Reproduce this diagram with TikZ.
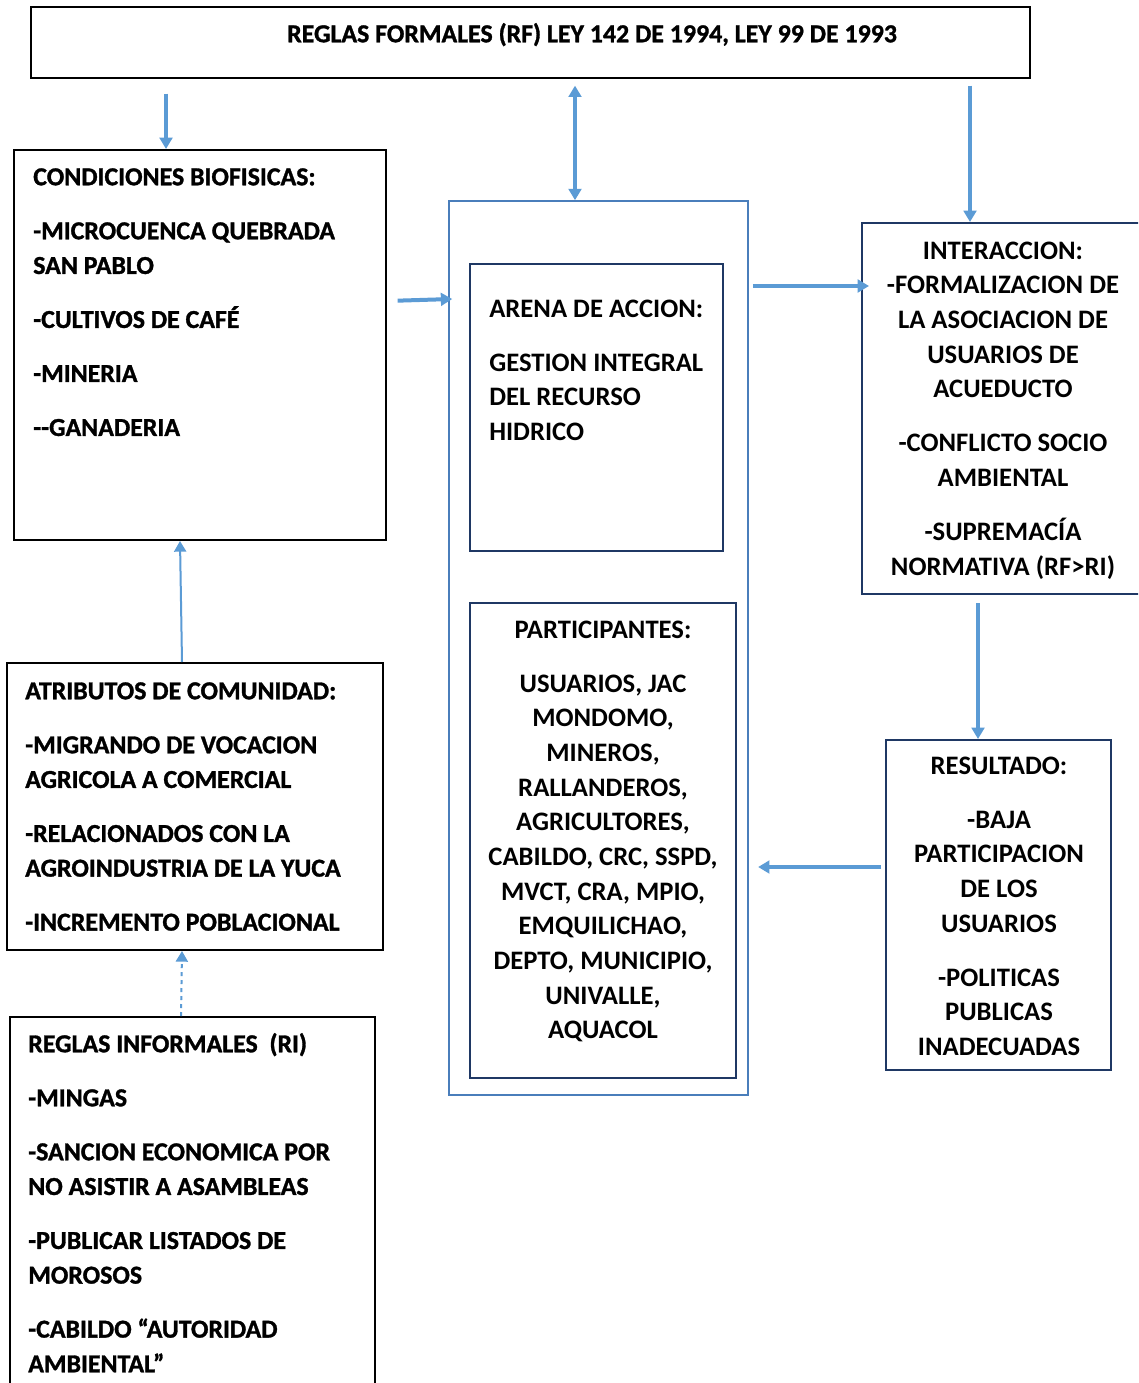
\documentclass[tikz,border=0pt]{standalone}
\usepackage{fontspec}
\setmainfont{Carlito}
% heavier face for the texts framed in black
\newfontfamily\heavyfont{Carlito Bold}[FakeBold=1.2]
\usetikzlibrary{arrows.meta,fit}
\definecolor{arrowblue}{HTML}{5B9BD5}
\definecolor{frameblue}{HTML}{4A7EBB}
\definecolor{navy}{HTML}{1F3864}
% strut fixing the height of the first line of every text block
\newcommand{\fl}{\rule{0pt}{15pt}}

\begin{document}
\begin{tikzpicture}[x=0.75pt,y=-0.75pt,
  blackbox/.style={draw=black, line width=1.5pt, inner sep=0pt},
  navybox/.style={draw=navy, line width=1.5pt, inner sep=0pt},
  framebox/.style={draw=frameblue, line width=1.2pt, inner sep=0pt},
  txt/.style={inner sep=0pt, font=\fontsize{20}{26}\selectfont\bfseries, text=black},
  htxt/.style={inner sep=0pt, font=\fontsize{19.4}{26}\selectfont\heavyfont, text=black},
  ltxt/.style={htxt, align=left, anchor=north west},
  ctxt/.style={txt, align=center, anchor=north},
  arr/.style={draw=arrowblue, line width=3pt, -{Triangle[width=9.5pt,length=8.5pt]}},
  darr/.style={draw=arrowblue, line width=3pt, {Triangle[width=9.5pt,length=8.5pt]}-{Triangle[width=9.5pt,length=8.5pt]}},
  thinarr/.style={draw=arrowblue, line width=1.5pt, -{Triangle[width=9pt,length=8pt]}},
]
\clip (0,0) rectangle (1138,1383);
\fill[white] (0,0) rectangle (1138,1383);

% ---------- boxes ----------
\node[blackbox, fit={(31,7) (1030,78)}] (rf) {};
\node[blackbox, fit={(14,150) (386,540)}] (cond) {};
\node[blackbox, fit={(7,663) (383,950)}] (atr) {};
\node[blackbox, fit={(10,1017) (375,1400)}] (ri) {};
\node[framebox, fit={(449,201) (748,1095)}] (arena) {};
\node[navybox, fit={(470,264) (723,551)}] (accion) {};
\node[navybox, fit={(470,603) (736,1078)}] (part) {};
\node[navybox, fit={(862,223) (1150,594)}] (inter) {};
\node[navybox, fit={(886,740) (1111,1070)}] (res) {};

% ---------- texts ----------
\node[htxt, anchor=north] (rftxt) at (592,22) {\fl REGLAS FORMALES (RF) LEY 142 DE 1994, LEY 99 DE 1993};

\node[ltxt] (condtxt) at (33,165) {\fl CONDICIONES BIOFISICAS:\\[14.5pt]
  -MICROCUENCA QUEBRADA\\ SAN PABLO\\[14.5pt]
  -CULTIVOS DE CAFÉ\\[14.5pt]
  -MINERIA\\[14.5pt]
  -{}-GANADERIA};

\node[txt, align=left, anchor=north west] (accitxt) at (489,297) {\fl ARENA DE ACCION:\\[14.5pt]
  GESTION INTEGRAL\\ DEL RECURSO\\ HIDRICO};

\node[ctxt] (intertxt) at (1003,239) {\fl INTERACCION:\\
  -FORMALIZACION DE\\ LA ASOCIACION DE\\ USUARIOS DE\\ ACUEDUCTO\\[14.5pt]
  -CONFLICTO SOCIO\\ AMBIENTAL\\[14.5pt]
  -SUPREMACÍA\\ NORMATIVA (RF>RI)};

\node[ctxt] (restxt) at (999,754) {\fl RESULTADO:\\[14.5pt]
  -BAJA\\ PARTICIPACION\\ DE LOS\\ USUARIOS\\[14.5pt]
  -POLITICAS\\ PUBLICAS\\ INADECUADAS};

\node[ctxt] (parttxt) at (603,618) {\fl PARTICIPANTES:\\[14.5pt]
  USUARIOS, JAC\\ MONDOMO,\\ MINEROS,\\ RALLANDEROS,\\ AGRICULTORES,\\
  CABILDO, CRC, SSPD,\\ MVCT, CRA, MPIO,\\ EMQUILICHAO,\\ DEPTO, MUNICIPIO,\\
  UNIVALLE,\\ AQUACOL};

\node[ltxt] (atrtxt) at (25,679) {\fl ATRIBUTOS DE COMUNIDAD:\\[14.5pt]
  -MIGRANDO DE VOCACION\\ AGRICOLA A COMERCIAL\\[14.5pt]
  -RELACIONADOS CON LA\\ AGROINDUSTRIA DE LA YUCA\\[14.5pt]
  -INCREMENTO POBLACIONAL};

\node[ltxt] (ritxt) at (28,1032) {\fl REGLAS INFORMALES\ \ (RI)\\[14.5pt]
  -MINGAS\\[14.5pt]
  -SANCION ECONOMICA POR\\ NO ASISTIR A ASAMBLEAS\\[14.5pt]
  -PUBLICAR LISTADOS DE\\ MOROSOS\\[14.5pt]
  -CABILDO “AUTORIDAD\\ AMBIENTAL”};

% ---------- connectors ----------
\draw[arr, shorten <=11pt] (rf.south -| 166,0) -- (cond.north -| 166,0);
\draw[darr, shorten <=5pt] (rf.south -| 575,0) -- (arena.north -| 575,0);
\draw[arr, shorten <=5pt] (rf.south -| 970,0) -- (inter.north -| 970,0);
\draw[arr, shorten <=8pt] (cond.east |- 0,301) -- ([xshift=3pt]arena.west |- 0,299);
\draw[arr, shorten <=3pt] (arena.east |- 0,286) -- ([xshift=6pt]inter.west |- 0,286);
\draw[arr, shorten <=6pt] (inter.south -| 978,0) -- (res.north -| 978,0);
\draw[arr, shorten <=3pt, shorten >=7pt] (res.west |- 0,867) -- (arena.east |- 0,867);
\draw[thinarr] (atr.north -| 182,0) -- (cond.south -| 180,0);
\draw[thinarr, dashed] (ri.north -| 181,0) -- (atr.south -| 182,0);
\end{tikzpicture}
\end{document}
